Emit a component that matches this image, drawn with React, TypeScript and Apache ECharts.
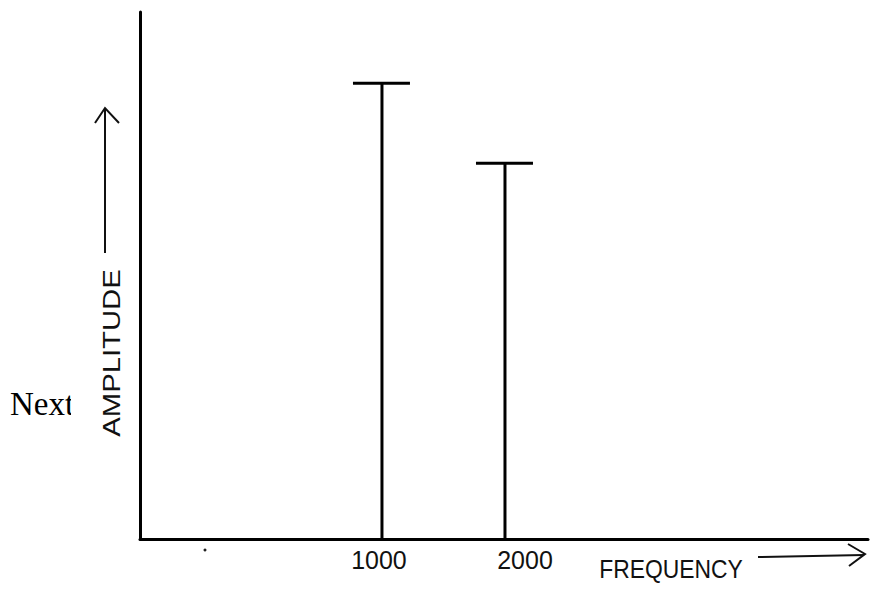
import React, { useEffect, useRef } from "react";
import * as echarts from "echarts";

// Spectrum data (frequency in Hz, relative amplitude)
const frequencies = [1000, 2000];
const amplitudes = [86.5, 71.3];
const tickLabels = [1000, 2000];
const freqRange = [-967, 4951];
const ampRange = [0, 100];
const xName = "FREQUENCY";
const yName = "AMPLITUDE";
const pageText = "Next";

const HAND = "'Liberation Sans', Arial, sans-serif";
const LABEL_FONT = "'Liberation Sans', Arial, sans-serif";

export default function App() {
  const ref = useRef<HTMLDivElement>(null);
  useEffect(() => {
    document.body.style.margin = "0";
    if (!ref.current) return;
    const chart = echarts.init(ref.current, null, { renderer: "svg" });
    const data = frequencies.map((f, i) => [f, amplitudes[i]]);
    chart.setOption({
      animation: false,
      backgroundColor: "#ffffff",
      grid: { left: 140, right: 6, top: 12, bottom: 52 },
      xAxis: {
        type: "value",
        min: freqRange[0],
        max: freqRange[1],
        axisLine: { onZero: false, lineStyle: { color: "#000", width: 3 } },
        axisTick: { show: false },
        splitLine: { show: false },
        axisLabel: {
          customValues: tickLabels,
          margin: 8,
          fontSize: 25,
          fontFamily: LABEL_FONT,
          color: "#111",
          formatter: (v: number) => (v === 2000 ? "{r|" + v + "}" : "{c|" + v + "}"),
          rich: {
            c: { fontSize: 25, fontFamily: LABEL_FONT, color: "#111", padding: [0, 6, 0, 0] },
            r: { fontSize: 25, fontFamily: LABEL_FONT, color: "#111", padding: [0, 0, 0, 40] },
          },
        },
      },
      yAxis: {
        type: "value",
        min: ampRange[0],
        max: ampRange[1],
        axisLine: { show: true, onZero: false, lineStyle: { color: "#000", width: 3 } },
        axisTick: { show: false },
        axisLabel: { show: false },
        splitLine: { show: false },
      },
      series: [
        {
          type: "custom",
          data,
          renderItem: (params: any, api: any) => {
            const top = api.coord([api.value(0), api.value(1)]);
            const bottom = api.coord([api.value(0), 0]);
            return {
              type: "group",
              children: [
                {
                  type: "line",
                  shape: { x1: top[0], y1: top[1], x2: bottom[0], y2: bottom[1] },
                  style: { stroke: "#000", lineWidth: 3 },
                },
                {
                  type: "line",
                  shape: { x1: top[0] - 29, y1: top[1], x2: top[0] + 28, y2: top[1] },
                  style: { stroke: "#000", lineWidth: 3 },
                },
              ],
            };
          },
        },
      ],
      graphic: [
        {
          type: "text",
          x: 10,
          y: 404,
          style: {
            text: pageText,
            font: "33px 'Liberation Serif', 'Times New Roman', serif",
            fill: "#000",
            verticalAlign: "middle",
          },
          z: 1,
        },
        {
          type: "rect",
          shape: { x: 71, y: 380, width: 30, height: 50 },
          style: { fill: "#fff" },
          z: 2,
        },
        {
          type: "text",
          x: 112,
          y: 353,
          rotation: Math.PI / 2,
          scaleX: 1.22,
          style: {
            text: yName,
            font: "24px " + HAND,
            fill: "#111",
            align: "center",
            verticalAlign: "middle",
          },
          z: 3,
        },
        {
          type: "line",
          shape: { x1: 105, y1: 253, x2: 105, y2: 109 },
          style: { stroke: "#111", lineWidth: 2 },
          z: 3,
        },
        {
          type: "polyline",
          shape: { points: [[95, 123], [105, 108], [119, 123]] },
          style: { stroke: "#111", lineWidth: 2, fill: "none" },
          z: 3,
        },
        {
          type: "text",
          x: 671,
          y: 569,
          scaleX: 0.88,
          style: {
            text: xName,
            font: "26px " + HAND,
            fill: "#111",
            align: "center",
            verticalAlign: "middle",
          },
          z: 3,
        },
        {
          type: "line",
          shape: { x1: 758, y1: 557, x2: 864, y2: 555 },
          style: { stroke: "#111", lineWidth: 2 },
          z: 3,
        },
        {
          type: "polyline",
          shape: { points: [[848, 544], [865, 554], [849, 566]] },
          style: { stroke: "#111", lineWidth: 2, fill: "none" },
          z: 3,
        },
        {
          type: "circle",
          shape: { cx: 205, cy: 550, r: 1.5 },
          style: { fill: "#222" },
          z: 3,
        },
      ],
    });
    return () => chart.dispose();
  }, []);
  return <div ref={ref} style={{ width: 874, height: 591 }} />;
}
